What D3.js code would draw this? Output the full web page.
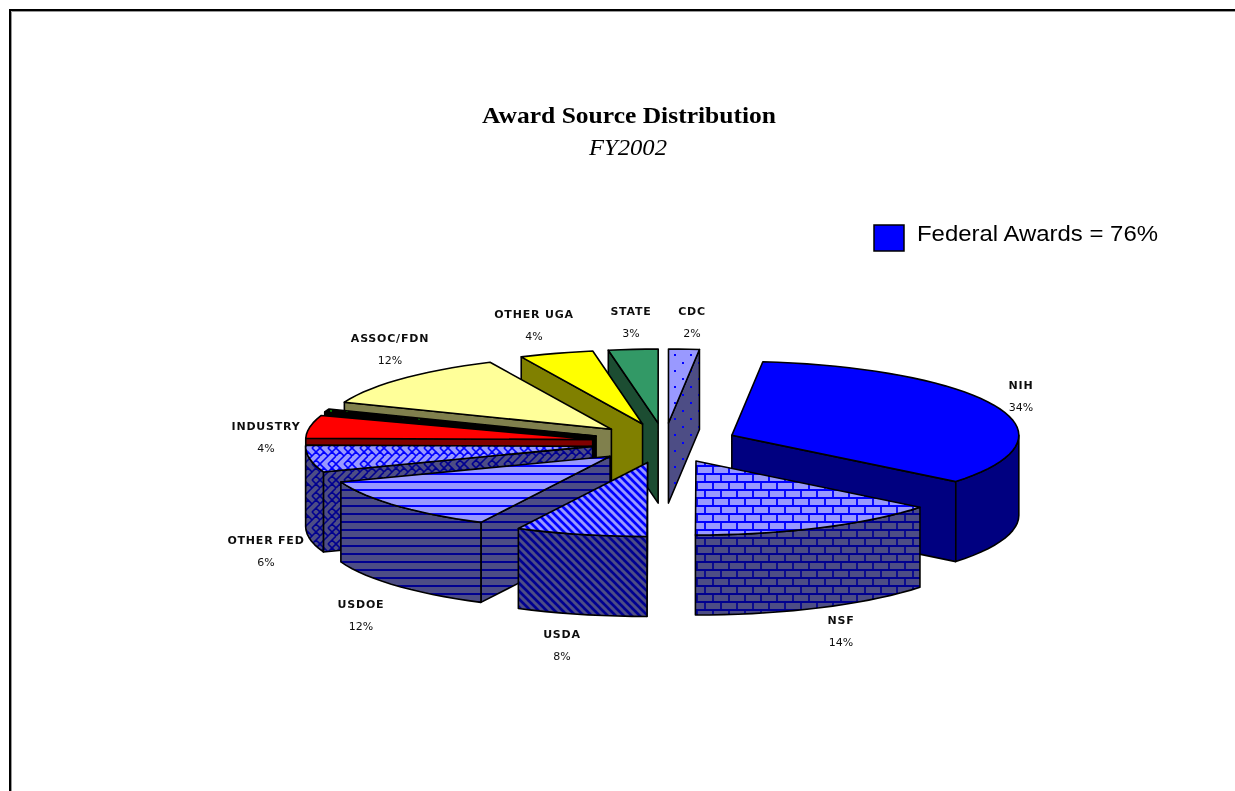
<!DOCTYPE html>
<html>
<head>
<meta charset="utf-8">
<style>
html,body{margin:0;padding:0;background:#fff;overflow:hidden}
svg{display:block}
</style>
<script src="https://cdn.jsdelivr.net/npm/d3@7/dist/d3.min.js"></script>
</head>
<body>
<svg id="chart" width="1235" height="791"></svg>
<script>
// ---- data ----
const categories = ["NIH","NSF","USDA","USDOE","OTHER FED","INDUSTRY","","ASSOC/FDN","OTHER UGA","STATE","CDC"];
const drawnShares = [34.03,14.28,7.4,11.94,5.9,5.0,0.7,12.08,4.17,2.78,1.72];
const shareLabels = ["34%","14%","8%","12%","6%","4%","","12%","4%","3%","2%"];
const title = "Award Source Distribution";
const subtitle = "FY2002";
const legendText = "Federal Awards = 76%";

// ---- styles ----
const fills = ["#0000ff","url(#brick)","url(#diag)","url(#hlines)","url(#weave)","#ff0000","url(#blackdots)","#ffff99","#ffff00","#339966","url(#dots)"];
const walls = ["#000080","url(#brickD)","url(#diagD)","url(#hlinesD)","url(#weaveD)","#800000","#000000","#80804d","#808000","#1a4d33","url(#dotsD)"];
const labelPos = [[1021,389],[841,624],[562,638],[361,608],[266,544],[266,430],null,[390,342],[534,318],[631,315],[692,315]];
const labelGap = 22;

// ---- geometry ----
const W = 1235, H = 791;
const cx = 664.5, cy = 443, rx = 287, ry = 74, depth = 80;
const explodeX = 0.254, explodeY = 0.27;
const startDeg = 6.2;
const DEG = Math.PI / 180;
const LIGHT = "#9999ff", DARK = "#4d4d85", BLUE = "#0000ff", NAVY = "#000090";

const x = d3.scaleLinear().domain([-1,1]).range([cx-rx,cx+rx]);
const y = d3.scaleLinear().domain([-1,1]).range([cy-ry,cy+ry]);
const pie = d3.pie().sort(null).startAngle(startDeg*DEG).endAngle(startDeg*DEG+2*Math.PI);
const line = d3.line();

const svg = d3.select("#chart");
const defs = svg.append("defs");
defs.append("filter").attr("id","soft").attr("x","-5%").attr("y","-5%").attr("width","110%").attr("height","110%")
  .append("feGaussianBlur").attr("stdDeviation",0.4);

function addPattern(id,w,h,bg,draw){
  const p = defs.append("pattern").attr("id",id).attr("patternUnits","userSpaceOnUse").attr("width",w).attr("height",h);
  p.append("rect").attr("width",w).attr("height",h).attr("fill",bg);
  draw(p);
}
function brick(p,c){
  p.append("path").attr("d","M0 2H16M0 10H16M9 2V10M1 10V18M1 -6V2").attr("stroke",c).attr("stroke-width",1.8).attr("fill","none");
}
function hl(p,c){ p.append("path").attr("d","M0 2H8").attr("stroke",c).attr("stroke-width",2); }
function dg(p,c){ p.append("path").attr("d","M-2 -2L10 10M-2 6L2 10M6 -2L10 2").attr("stroke",c).attr("stroke-width",2.7).attr("fill","none"); }
function wv(p,c){
  p.append("path").attr("d","M0 8L4 4L8 8L4 12M8 8L12 4L16 8L12 12L8 16M0 0L4 4M12 4L8 0M16 0L12 4M0 16L4 12M12 12L16 16")
   .attr("stroke",c).attr("stroke-width",1.6).attr("fill","none");
}
function dt(p,c){
  p.append("rect").attr("x",2).attr("y",2).attr("width",2).attr("height",2).attr("fill",c);
  p.append("rect").attr("x",10).attr("y",10).attr("width",2).attr("height",2).attr("fill",c);
}
addPattern("brick",16,16,LIGHT,p=>brick(p,BLUE));
addPattern("brickD",16,16,DARK,p=>brick(p,NAVY));
addPattern("hlines",8,8,LIGHT,p=>hl(p,BLUE));
addPattern("hlinesD",8,8,DARK,p=>hl(p,NAVY));
addPattern("diag",8,8,LIGHT,p=>dg(p,BLUE));
addPattern("diagD",8,8,DARK,p=>dg(p,NAVY));
addPattern("weave",16,16,LIGHT,p=>wv(p,BLUE));
addPattern("weaveD",16,16,DARK,p=>wv(p,NAVY));
addPattern("dots",16,16,LIGHT,p=>dt(p,BLUE));
addPattern("dotsD",16,16,DARK,p=>dt(p,BLUE));
addPattern("blackdots",16,16,"#000000",p=>dt(p,"#008000"));

const root = svg.append("g").attr("filter","url(#soft)");

// frame
root.append("path").attr("d","M10 791V10H1235").attr("fill","none").attr("stroke","#000").attr("stroke-width",2);
root.append("path").attr("d","M11.5 791V11.5H1235").attr("fill","none").attr("stroke","#999").attr("stroke-width",1);

// title
root.append("text").attr("x",482).attr("y",123).attr("textLength",294).attr("lengthAdjust","spacingAndGlyphs")
  .attr("font-family","'Liberation Serif'").attr("font-weight","bold").attr("font-size",23).text(title);
root.append("text").attr("x",589).attr("y",155).attr("textLength",78).attr("lengthAdjust","spacingAndGlyphs")
  .attr("font-family","'Liberation Serif'").attr("font-style","italic").attr("font-size",23).text(subtitle);

// legend
root.append("rect").attr("x",874).attr("y",225).attr("width",30).attr("height",26)
  .attr("fill","#0000ff").attr("stroke","#000").attr("stroke-width",1.5);
root.append("text").attr("x",917).attr("y",241).attr("textLength",241).attr("lengthAdjust","spacingAndGlyphs")
  .attr("font-family","'Liberation Sans'").attr("font-size",22).text(legendText);

// slices
const slices = pie(drawnShares).map((d,i)=>{
  const mid = (d.startAngle+d.endAngle)/2;
  const ox = Math.sin(mid)*explodeX, oy = -Math.cos(mid)*explodeY;
  const rim = a => [x(ox+Math.sin(a)), y(oy-Math.cos(a))];
  return {...d,i,mid,ox,oy,rim,apex:[x(ox),y(oy)]};
});
const down = p => [p[0],p[1]+depth];
function arcPts(s,a0,a1){
  const n = Math.max(2,Math.ceil((a1-a0)/DEG/3));
  return d3.range(n+1).map(k=>s.rim(a0+(a1-a0)*k/n));
}
const pieG = root.append("g").attr("stroke","#000").attr("stroke-width",1.6).attr("stroke-linejoin","round");

slices.slice().sort((a,b)=>(-Math.cos(a.mid))-(-Math.cos(b.mid))).forEach(s=>{
  const g = pieG.append("g");
  const wall = walls[s.i];
  // cut faces that look toward the viewer
  if (Math.sin(s.startAngle) < -1e-3){
    const r = s.rim(s.startAngle);
    g.append("path").attr("fill",wall).attr("d",line([s.apex,r,down(r),down(s.apex)])+"Z");
  }
  if (Math.sin(s.endAngle) > 1e-3){
    const r = s.rim(s.endAngle);
    g.append("path").attr("fill",wall).attr("d",line([s.apex,r,down(r),down(s.apex)])+"Z");
  }
  // outer wall, front half of the rim only (pie angles 90..270 degrees)
  const a0 = Math.max(s.startAngle,90*DEG), a1 = Math.min(s.endAngle,270*DEG);
  if (a1 > a0){
    const top = arcPts(s,a0,a1);
    g.append("path").attr("fill",wall).attr("d",line(top.concat(top.slice().reverse().map(down)))+"Z");
  }
  // top face
  g.append("path").attr("fill",fills[s.i]).attr("d",line([s.apex].concat(arcPts(s,s.startAngle,s.endAngle)))+"Z");
});

// labels
const lab = root.append("g").attr("font-family","'DejaVu Sans'").attr("font-size",11).attr("text-anchor","middle").attr("fill","#111");
categories.forEach((c,i)=>{
  if (!c) return;
  const [lx,ly] = labelPos[i];
  lab.append("text").attr("x",lx).attr("y",ly).attr("font-weight","bold").attr("letter-spacing",0.8).text(c);
  lab.append("text").attr("x",lx).attr("y",ly+labelGap).text(shareLabels[i]);
});
</script>
</body>
</html>
